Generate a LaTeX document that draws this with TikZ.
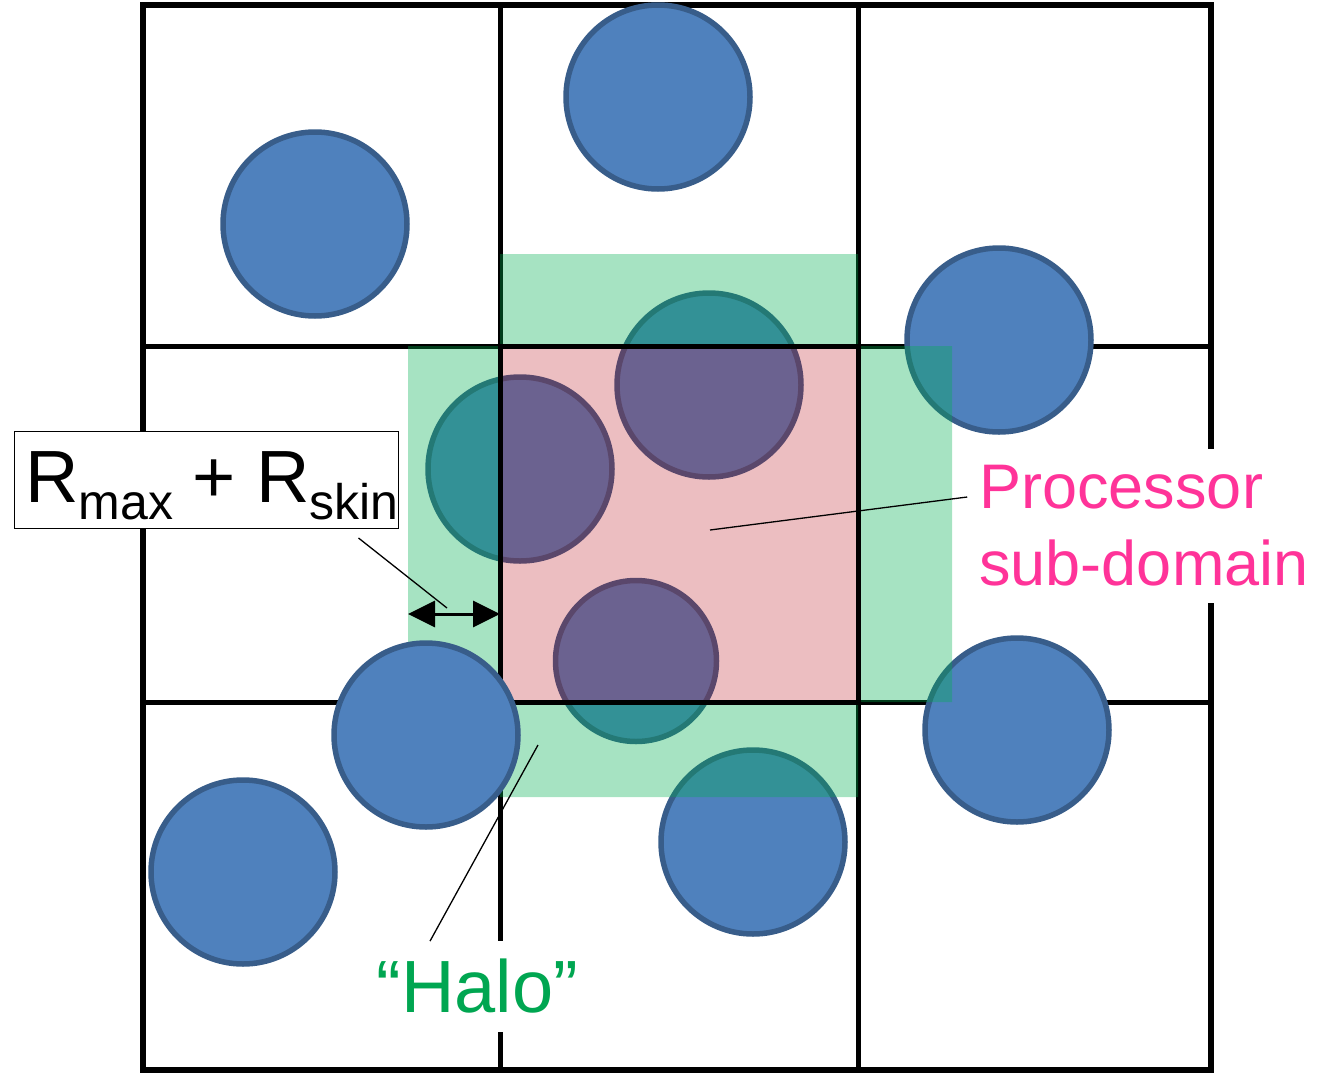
\documentclass[tikz,border=0pt]{standalone}
\usepackage{fontspec}
\setmainfont{Liberation Sans}
\usetikzlibrary{arrows.meta,calc}
\definecolor{cfill}{HTML}{4F81BD}
\definecolor{cline}{HTML}{385D8A}
\definecolor{halogreen}{HTML}{00B050}
\definecolor{subred}{RGB}{185,15,25}
\definecolor{procpink}{HTML}{FF3399}
\definecolor{halotext}{HTML}{00A651}
\tikzset{
  gridline/.style={line width=5pt, line cap=rect},
  particle/.style={fill=cfill, draw=cline, line width=5.5pt},
  leader/.style={line width=1.3pt},
}
\begin{document}
\begin{tikzpicture}[x=1pt,y=-1pt]
\useasboundingbox (0,0) rectangle (1334,1074);
% grid
\draw[gridline, line width=6pt] (143,5) rectangle (1211,1070);
\draw[gridline] (500,5) -- (500,1070);
\draw[gridline] (858,5) -- (858,1070);
\draw[gridline] (143,346) -- (1211,346);
\draw[gridline] (143,702) -- (1211,702);
% particles under the overlays
\foreach \cx/\cy/\r in {315/224/92, 658/97/92, 999/340/92, 709/385/92, 520/469/92,
                        636/661/80.5, 1017/730/92, 753/842/92, 243/872/92}
  \draw[particle] (\cx,\cy) circle[radius=\r pt];
% halo
\fill[halogreen, fill opacity=0.35]
  (500,254) rectangle (858,346)
  (408,346) rectangle (500,702)
  (858,346) rectangle (952,702)
  (500,702) rectangle (858,797);
% processor sub-domain
\fill[subred, fill opacity=0.27] (500,346) rectangle (858,702);
\draw[line width=5pt] (500,346) rectangle (858,702);
% particle on top
\draw[particle] (426,735) circle[radius=92pt];
% labels
\node[draw, line width=1pt, fill=white, minimum width=384pt, minimum height=97pt,
      inner sep=0pt, anchor=north west] (rbox) at (14,431) {};
\node[anchor=base west, inner sep=0pt] (rtext) at (25,502)
  {\fontsize{74}{74}\selectfont R\raisebox{-17pt}{\fontsize{50}{50}\selectfont max}\hspace{-1pt} + R\raisebox{-17pt}{\fontsize{50}{50}\selectfont skin}};
\node[fill=white, text=procpink, align=left, inner xsep=12pt, inner ysep=17pt,
      font=\fontsize{63}{77}\selectfont] (proc) at (1144,526)
  {Processor\\ sub-domain};
\node[fill=white, text=halotext, inner xsep=6pt, inner ysep=18pt,
      font=\fontsize{74}{74}\selectfont] (halo) at (477.5,986.5)
  {\textquotedblleft Halo\textquotedblright};
% connectors
\coordinate (procpt) at (710,530);
\coordinate (halopt) at (538,745);
\coordinate (rtip) at (447,608);
\coordinate (hl) at (408,614);
\coordinate (hr) at (500,614);
\draw[leader] (procpt) -- ([yshift=29pt]proc.west);
\draw[leader] (halopt) -- ([xshift=-47.5pt]halo.north);
\draw[leader] ([xshift=152pt,yshift=-9pt]rbox.south) -- (rtip);
\draw[line width=3pt, {Triangle[length=27pt,width=26pt]}-{Triangle[length=27pt,width=26pt]}] (hl) -- (hr);
\end{tikzpicture}
\end{document}
